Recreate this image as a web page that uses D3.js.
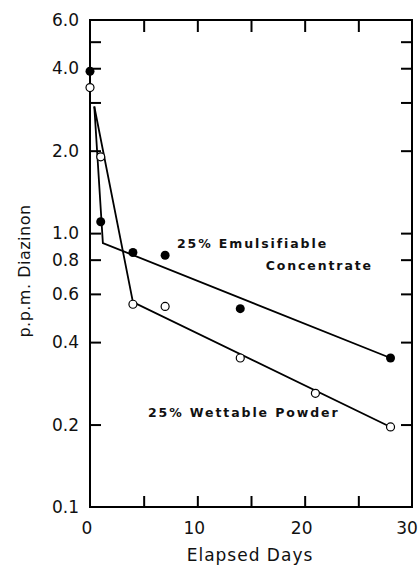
<!DOCTYPE html>
<html>
<head>
<meta charset="utf-8">
<script src="https://d3js.org/d3.v7.min.js"></script>
<style>
  body { margin: 0; background: #fff; }
  text { font-family: "DejaVu Sans", sans-serif; fill: #111; }
</style>
</head>
<body>
<svg></svg>
<script>
// measured points
var emulsDays = [0, 1, 4, 7, 14, 28];
var emulsPpm = [3.9, 1.1, 0.85, 0.83, 0.53, 0.35];
var wettDays = [0, 1, 4, 7, 14, 21, 28];
var wettPpm = [3.4, 1.9, 0.55, 0.54, 0.35, 0.26, 0.196];

// fitted lines
var emulsFitDays = [0.4, 1.2, 28];
var emulsFitPpm = [2.9, 0.92, 0.35];
var wettFitDays = [0.4, 4, 28];
var wettFitPpm = [2.9, 0.56, 0.196];

var yLabelVals = [0.1, 0.2, 0.4, 0.6, 0.8, 1.0, 2.0, 4.0, 6.0];
var yTickVals = [0.2, 0.4, 0.6, 0.8, 1, 2, 3, 4, 5];
var xLabelVals = [0, 10, 20, 30];
var xTickVals = [5, 10, 15, 20, 25];

var svg = d3.select("svg")
    .attr("width", 420)
    .attr("height", 567);

var x = d3.scaleLinear().domain([0, 30]).range([90, 412]);
var y = d3.scaleLog().domain([0.1, 6]).range([507, 20]);

// frame
svg.append("rect")
    .attr("x", x(0)).attr("y", y(6))
    .attr("width", x(30) - x(0)).attr("height", y(0.1) - y(6))
    .attr("fill", "none").attr("stroke", "#000").attr("stroke-width", 2);

// inward ticks on all four sides
svg.append("g").call(d3.axisRight(y).tickValues(yTickVals).tickSize(11).tickFormat(""))
    .attr("transform", "translate(" + x(0) + ",0)");
svg.append("g").call(d3.axisLeft(y).tickValues(yTickVals).tickSize(11).tickFormat(""))
    .attr("transform", "translate(" + x(30) + ",0)");
svg.append("g").call(d3.axisTop(x).tickValues(xTickVals).tickSize(11).tickFormat(""))
    .attr("transform", "translate(0," + y(0.1) + ")");
svg.append("g").call(d3.axisBottom(x).tickValues(xTickVals).tickSize(12).tickFormat(""))
    .attr("transform", "translate(0," + y(6) + ")");
svg.selectAll(".domain").remove();
svg.selectAll(".tick line").attr("stroke", "#000").attr("stroke-width", 2);

// tick labels
svg.append("g").selectAll("text")
    .data(yLabelVals)
    .enter().append("text")
    .attr("x", 79)
    .attr("y", function(d) { return y(d); })
    .attr("dy", "0.36em")
    .attr("text-anchor", "end")
    .attr("font-size", 17)
    .text(function(d) { return d3.format(".1f")(d); });

svg.append("g").selectAll("text")
    .data(xLabelVals)
    .enter().append("text")
    .attr("x", function(d) { return Math.min(x(d) - 3, 407); })
    .attr("y", 528)
    .attr("dy", "0.36em")
    .attr("text-anchor", "middle")
    .attr("font-size", 17)
    .text(function(d) { return d; });

// axis titles
svg.append("text")
    .attr("x", 250).attr("y", 555)
    .attr("dy", "0.36em")
    .attr("text-anchor", "middle")
    .attr("font-size", 17)
    .attr("letter-spacing", 1)
    .text("Elapsed Days");

svg.append("text")
    .attr("transform", "translate(24,271) rotate(-90)")
    .attr("dy", "0.36em")
    .attr("text-anchor", "middle")
    .attr("font-size", 16)
    .attr("letter-spacing", 0.5)
    .text("p.p.m. Diazinon");

// fitted lines
var line = d3.line()
    .x(function(d) { return x(d[0]); })
    .y(function(d) { return y(d[1]); });

svg.append("path")
    .datum(d3.zip(emulsFitDays, emulsFitPpm))
    .attr("d", line)
    .attr("fill", "none").attr("stroke", "#000").attr("stroke-width", 1.8);

svg.append("path")
    .datum(d3.zip(wettFitDays, wettFitPpm))
    .attr("d", line)
    .attr("fill", "none").attr("stroke", "#000").attr("stroke-width", 1.8);

// points
svg.append("g").selectAll("circle")
    .data(d3.zip(emulsDays, emulsPpm))
    .enter().append("circle")
    .attr("cx", function(d) { return x(d[0]); })
    .attr("cy", function(d) { return y(d[1]); })
    .attr("r", 4.5)
    .attr("fill", "#000");

svg.append("g").selectAll("circle")
    .data(d3.zip(wettDays, wettPpm))
    .enter().append("circle")
    .attr("cx", function(d) { return x(d[0]); })
    .attr("cy", function(d) { return y(d[1]); })
    .attr("r", 4)
    .attr("fill", "#fff")
    .attr("stroke", "#000")
    .attr("stroke-width", 1.2);

// series labels
svg.append("text")
    .attr("x", 177).attr("y", 243)
    .attr("dy", "0.36em")
    .attr("font-size", 12.5).attr("font-weight", "bold")
    .attr("letter-spacing", 1.9)
    .text("25% Emulsifiable");

svg.append("text")
    .attr("x", 373).attr("y", 265)
    .attr("dy", "0.36em")
    .attr("text-anchor", "end")
    .attr("font-size", 12.5).attr("font-weight", "bold")
    .attr("letter-spacing", 1.9)
    .text("Concentrate");

svg.append("text")
    .attr("x", 148).attr("y", 412)
    .attr("dy", "0.36em")
    .attr("font-size", 12.5).attr("font-weight", "bold")
    .attr("letter-spacing", 1.9)
    .text("25% Wettable Powder");
</script>
</body>
</html>
